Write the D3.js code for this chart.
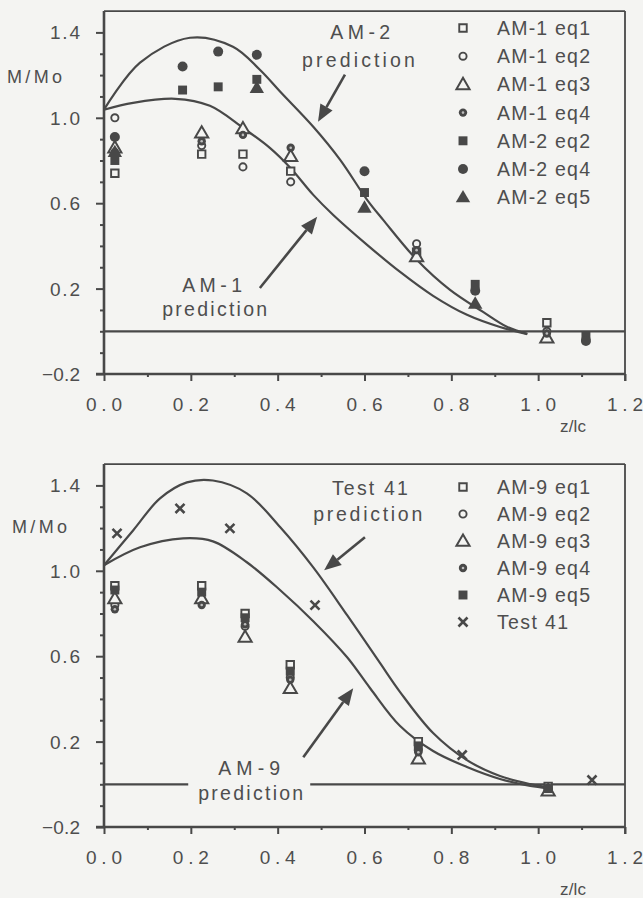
<!DOCTYPE html>
<html><head><meta charset="utf-8">
<script src="https://cdn.jsdelivr.net/npm/d3@7"></script>
<style>body{margin:0;background:#f4f4f2}svg{display:block}text{font-family:"Liberation Sans",Arial,Helvetica,sans-serif;fill:#4e4e4e}</style>
</head><body>
<svg id="c" width="643" height="898"></svg>
<script>
// ---------------- DATA ----------------
const xTickLabels = [0.0, 0.2, 0.4, 0.6, 0.8, 1.0, 1.2];
const yTickLabels = [-0.2, 0.2, 0.6, 1.0, 1.4];

// Top panel: AM-1 / AM-2
const am1Z   = [0.025, 0.225, 0.32, 0.43, 0.72, 1.02];
const am1Eq1 = [0.74, 0.83, 0.83, 0.75, 0.37, 0.04];
const am1Eq2 = [1.00, 0.87, 0.77, 0.70, 0.41, 0.00];
const am1Eq3 = [0.86, 0.93, 0.95, 0.82, 0.35, -0.03];
const am1Eq4 = [0.84, 0.89, 0.92, 0.86, 0.38, -0.01];
const am2Z   = [0.025, 0.181, 0.263, 0.352, 0.60, 0.855, 1.11];
const am2Eq2 = [0.80, 1.13, 1.145, 1.18, 0.65, 0.22, -0.02];
const am2Eq4 = [0.91, 1.24, 1.31, 1.295, 0.75, 0.19, -0.045];
const am2Eq5 = [0.84, null, null, 1.14, 0.58, 0.13, null];

const am2PredZ = [0, 0.083, 0.198, 0.297, 0.359, 0.406, 0.482, 0.544, 0.606, 0.643, 0.721, 0.797, 0.873, 0.929, 0.975];
const am2PredV = [1.038, 1.258, 1.375, 1.333, 1.225, 1.122, 0.958, 0.803, 0.616, 0.522, 0.334, 0.194, 0.091, 0.020, -0.012];
const am1PredZ = [0, 0.067, 0.164, 0.244, 0.320, 0.382, 0.429, 0.482, 0.528, 0.606, 0.682, 0.758, 0.836, 0.912, 0.975];
const am1PredV = [1.038, 1.070, 1.089, 1.056, 0.953, 0.859, 0.766, 0.639, 0.545, 0.405, 0.278, 0.166, 0.077, 0.020, -0.013];

// Bottom panel: AM-9 / Test 41
const am9Z   = [0.025, 0.225, 0.325, 0.429, 0.724, 1.023];
const am9Eq1 = [0.93, 0.93, 0.80, 0.56, 0.20, -0.01];
const am9Eq2 = [0.84, 0.86, 0.74, 0.50, 0.16, -0.02];
const am9Eq3 = [0.87, 0.87, 0.69, 0.45, 0.12, -0.03];
const am9Eq4 = [0.82, 0.84, 0.75, 0.49, 0.15, -0.02];
const am9Eq5 = [0.91, 0.90, 0.78, 0.53, 0.18, -0.02];
const test41Z = [0.03, 0.175, 0.29, 0.486, 0.825, 1.124];
const test41V = [1.175, 1.292, 1.199, 0.839, 0.137, 0.02];

const t41PredZ = [0, 0.067, 0.129, 0.191, 0.251, 0.329, 0.406, 0.482, 0.560, 0.636, 0.682, 0.758, 0.836, 0.912, 0.982, 1.021];
const t41PredV = [1.026, 1.189, 1.339, 1.414, 1.423, 1.363, 1.204, 1.016, 0.792, 0.567, 0.432, 0.240, 0.113, 0.039, 0.001, -0.013];
const am9PredZ = [0, 0.083, 0.182, 0.251, 0.329, 0.406, 0.482, 0.560, 0.613, 0.682, 0.758, 0.836, 0.912, 0.982, 1.021];
const am9PredV = [1.026, 1.110, 1.152, 1.138, 1.040, 0.909, 0.764, 0.595, 0.450, 0.273, 0.156, 0.081, 0.025, -0.008, -0.018];

// ---------------- DRAW ----------------
const INK = "#484848", BG = "#f4f4f2";
const svg = d3.select("#c");
svg.append("rect").attr("width", 643).attr("height", 898).attr("fill", BG);

function drawMarker(g, type, cx, cy) {
  const t = `translate(${cx},${cy})`;
  const sym = (s, size) => d3.symbol(s, size)();
  if (type === "oSquare") g.append("path").attr("d", sym(d3.symbolSquare, 56)).attr("transform", t).attr("fill", BG).attr("stroke", INK).attr("stroke-width", 1.9);
  else if (type === "oCircle") g.append("circle").attr("cx", cx).attr("cy", cy).attr("r", 3.6).attr("fill", BG).attr("stroke", INK).attr("stroke-width", 1.9);
  else if (type === "oTri") g.append("path").attr("d", sym(d3.symbolTriangle, 75)).attr("transform", `translate(${cx},${cy + 1})`).attr("fill", BG).attr("stroke", INK).attr("stroke-width", 2);
  else if (type === "diamond") {
    g.append("circle").attr("cx", cx).attr("cy", cy).attr("r", 4.2).attr("fill", INK);
    g.append("circle").attr("cx", cx).attr("cy", cy).attr("r", 1.3).attr("fill", "#bdbdbd");
  }
  else if (type === "fSquare") g.append("path").attr("d", sym(d3.symbolSquare, 80)).attr("transform", t).attr("fill", INK);
  else if (type === "fCircle") g.append("circle").attr("cx", cx).attr("cy", cy).attr("r", 5).attr("fill", INK);
  else if (type === "fTri") g.append("path").attr("d", sym(d3.symbolTriangle, 90)).attr("transform", `translate(${cx},${cy + 1})`).attr("fill", INK);
  else if (type === "cross") g.append("path").attr("d", sym(d3.symbolTimes || d3.symbolCross, 55)).attr("transform", t + (d3.symbolTimes ? "" : " rotate(45)")).attr("fill", d3.symbolTimes ? "none" : INK).attr("stroke", INK).attr("stroke-width", 2.6);
}

function panel(cfg) {
  const g = svg.append("g");
  const x = d3.scaleLinear().domain([0, 1.2]).range([104, 625]);
  const y = d3.scaleLinear().domain([-0.2, 1.5]).range([cfg.bottom, cfg.bottom - 1.7 * 213.5]);

  // frame top/right
  g.append("line").attr("x1", x(0)).attr("x2", x(1.2)).attr("y1", y(1.5)).attr("y2", y(1.5)).attr("stroke", INK).attr("stroke-width", 1.8);
  g.append("line").attr("x1", x(1.2)).attr("x2", x(1.2)).attr("y1", y(1.5)).attr("y2", y(-0.2) + 7).attr("stroke", INK).attr("stroke-width", 1.8);

  // y axis
  const yMinor = d3.range(-2, 15).map(i => +(i / 10).toFixed(1));
  const ya = g.append("g").attr("transform", `translate(${x(0)},0)`)
    .call(d3.axisLeft(y).tickValues(yMinor).tickSizeOuter(0).tickFormat(""));
  ya.select(".domain").attr("stroke", INK).attr("stroke-width", 2.6).attr("d", `M0,${y(1.5)}V${y(-0.2)}`);
  ya.selectAll(".tick line").attr("stroke", INK).attr("stroke-width", 2)
    .attr("x2", d => yTickLabels.some(v => Math.abs(v - d) < 1e-6) ? -8 : -4);
  yTickLabels.forEach(v => {
    g.append("text").attr("x", 80).attr("y", y(v) + 7).attr("text-anchor", "end")
      .attr("font-size", 19).attr("textLength", v < 0 ? 38 : 30).attr("lengthAdjust", "spacing")
      .text(d3.format(".1f")(v));
  });

  // x axis
  const xMinor = d3.range(0, 13).map(i => +(i / 10).toFixed(1));
  const xa = g.append("g").attr("transform", `translate(0,${y(-0.2)})`)
    .call(d3.axisBottom(x).tickValues(xMinor).tickSizeOuter(0).tickFormat(""));
  xa.select(".domain").attr("stroke", INK).attr("stroke-width", 2.6).attr("d", `M${x(0) - 8},0H${x(1.2)}`);
  xa.selectAll(".tick line").attr("stroke", INK).attr("stroke-width", 2)
    .attr("y2", d => xTickLabels.some(v => Math.abs(v - d) < 1e-6) ? 7 : 3);
  xTickLabels.forEach(v => {
    g.append("text").attr("x", x(v) - 18).attr("y", y(-0.2) + 37)
      .attr("font-size", 19).attr("textLength", 36).attr("lengthAdjust", "spacing")
      .text(d3.format(".1f")(v));
  });

  // axis titles
  g.append("text").attr("x", cfg.mmoX).attr("y", cfg.mmoY).attr("font-size", 18).attr("textLength", 55).attr("lengthAdjust", "spacing").text("M/Mo");
  g.append("text").attr("x", 560).attr("y", cfg.zlcY).attr("font-size", 17).attr("textLength", 26).attr("lengthAdjust", "spacing").text("z/lc");

  // zero line
  cfg.zeroSegs.forEach(s => {
    g.append("line").attr("x1", x(s[0])).attr("x2", x(s[1])).attr("y1", y(0)).attr("y2", y(0)).attr("stroke", INK).attr("stroke-width", 2.2);
  });

  // curves
  const line = d3.line().x(d => x(d[0])).y(d => y(d[1])).curve(d3.curveCatmullRom.alpha(0.5));
  cfg.curves.forEach(c => {
    g.append("path").attr("d", line(d3.zip(c[0], c[1]))).attr("fill", "none").attr("stroke", INK).attr("stroke-width", 2.2);
  });

  // points
  cfg.series.forEach(s => {
    s.z.forEach((z, i) => {
      if (s.v[i] == null) return;
      drawMarker(g, s.type, x(z), y(s.v[i]));
    });
  });

  // legend
  cfg.series.forEach((s, i) => {
    const cy = cfg.legY0 + i * cfg.legStep;
    drawMarker(g, s.type, 463, cy);
    g.append("text").attr("x", 497).attr("y", cy + 7).attr("font-size", 19.5)
      .attr("textLength", s.w).attr("lengthAdjust", "spacing").text(s.name);
  });

  // annotations
  cfg.annots.forEach(a => {
    g.append("text").attr("x", x(a.z)).attr("y", y(a.v)).attr("font-size", 19.5)
      .attr("textLength", a.w).attr("lengthAdjust", "spacing").text(a.t);
  });
  cfg.arrows.forEach(a => {
    const x1 = x(a.from[0]), y1 = y(a.from[1]), x2 = x(a.to[0]), y2 = y(a.to[1]);
    const ang = Math.atan2(y2 - y1, x2 - x1);
    const L = 17, Wd = 7;
    const bx = x2 - L * Math.cos(ang), by = y2 - L * Math.sin(ang);
    g.append("line").attr("x1", x1).attr("y1", y1).attr("x2", bx).attr("y2", by).attr("stroke", INK).attr("stroke-width", 2.6);
    const px = -Math.sin(ang) * Wd, py = Math.cos(ang) * Wd;
    g.append("path").attr("d", `M${x2},${y2}L${bx + px},${by + py}L${bx - px},${by - py}Z`).attr("fill", INK);
  });
}

panel({
  bottom: 374, mmoX: 7, mmoY: 83, zlcY: 432,
  zeroSegs: [[0, 1.2]],
  curves: [[am2PredZ, am2PredV], [am1PredZ, am1PredV]],
  series: [
    { name: "AM-1 eq1", type: "oSquare", z: am1Z, v: am1Eq1, w: 93 },
    { name: "AM-1 eq2", type: "oCircle", z: am1Z, v: am1Eq2, w: 93 },
    { name: "AM-1 eq3", type: "oTri", z: am1Z, v: am1Eq3, w: 93 },
    { name: "AM-1 eq4", type: "diamond", z: am1Z, v: am1Eq4, w: 93 },
    { name: "AM-2 eq2", type: "fSquare", z: am2Z, v: am2Eq2, w: 93 },
    { name: "AM-2 eq4", type: "fCircle", z: am2Z, v: am2Eq4, w: 93 },
    { name: "AM-2 eq5", type: "fTri", z: am2Z, v: am2Eq5, w: 93 }
  ],
  legY0: 28, legStep: 28.2,
  annots: [
    { t: "AM-2", z: 0.521, v: 1.37, w: 60 },
    { t: "prediction", z: 0.456, v: 1.239, w: 113 },
    { t: "AM-1", z: 0.180, v: 0.184, w: 60 },
    { t: "prediction", z: 0.134, v: 0.072, w: 105 }
  ],
  arrows: [
    { from: [0.555, 1.202], to: [0.493, 0.981] },
    { from: [0.359, 0.203], to: [0.491, 0.536] }
  ]
});

panel({
  bottom: 827, mmoX: 12, mmoY: 533, zlcY: 895,
  zeroSegs: [[0, 0.194], [0.475, 1.2]],
  curves: [[t41PredZ, t41PredV], [am9PredZ, am9PredV]],
  series: [
    { name: "AM-9 eq1", type: "oSquare", z: am9Z, v: am9Eq1, w: 93 },
    { name: "AM-9 eq2", type: "oCircle", z: am9Z, v: am9Eq2, w: 93 },
    { name: "AM-9 eq3", type: "oTri", z: am9Z, v: am9Eq3, w: 93 },
    { name: "AM-9 eq4", type: "diamond", z: am9Z, v: am9Eq4, w: 93 },
    { name: "AM-9 eq5", type: "fSquare", z: am9Z, v: am9Eq5, w: 93 },
    { name: "Test 41", type: "cross", z: test41Z, v: test41V, w: 71 }
  ],
  legY0: 487, legStep: 27,
  annots: [
    { t: "Test  41", z: 0.525, v: 1.353, w: 76 },
    { t: "prediction", z: 0.482, v: 1.232, w: 109 },
    { t: "AM-9", z: 0.263, v: 0.043, w: 62 },
    { t: "prediction", z: 0.217, v: -0.074, w: 105 }
  ],
  arrows: [
    { from: [0.601, 1.157], to: [0.507, 1.002] },
    { from: [0.459, 0.127], to: [0.574, 0.45] }
  ]
});
</script>
</body></html>
